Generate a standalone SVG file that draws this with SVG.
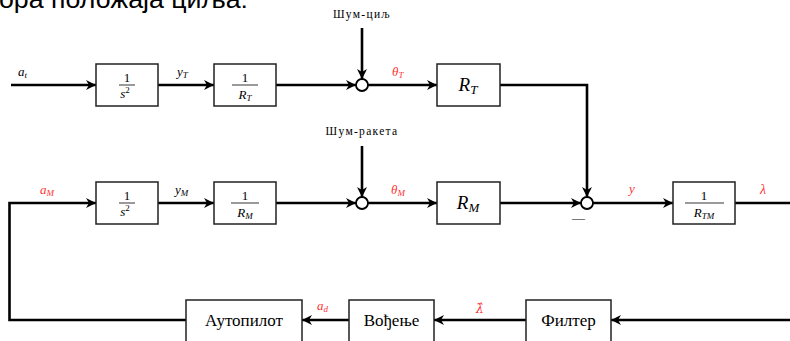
<svg xmlns="http://www.w3.org/2000/svg" width="790" height="341" viewBox="0 0 790 341">
<defs>
<marker id="ah" viewBox="0 0 10 10" refX="10" refY="5" markerWidth="10" markerHeight="10" markerUnits="userSpaceOnUse" orient="auto">
<path d="M0,0 L10,5 L0,10 L3,5 Z" fill="#000"/>
</marker>
</defs>
<style>
.ln{fill:none;stroke:#000;stroke-width:2.6}
.bx{fill:#fff;stroke:#222;stroke-width:1.5}
.sj{fill:#fff;stroke:#000;stroke-width:1.8}
.m{font-family:"Liberation Serif","DejaVu Serif",serif;font-style:italic;fill:#000}
.r{fill:#ff3333}
.n{font-family:"Liberation Serif","DejaVu Serif",serif;fill:#000}
.t{font-family:"Liberation Serif","DejaVu Serif",serif;font-size:11.5px;letter-spacing:1.3px;fill:#000}
.fl{stroke:#000;stroke-width:0.8}
</style>
<text x="-1" y="8" font-family="Liberation Sans, Arial, sans-serif" font-size="25" textLength="249" lengthAdjust="spacingAndGlyphs" fill="#000">ора положаја циља:</text>
<g id="connectors">
<line class="ln" x1="11" y1="85" x2="96" y2="85" marker-end="url(#ah)"/>
<line class="ln" x1="158" y1="85" x2="214" y2="85" marker-end="url(#ah)"/>
<line class="ln" x1="276" y1="85" x2="356" y2="85" marker-end="url(#ah)"/>
<line class="ln" x1="362" y1="28" x2="362" y2="79" marker-end="url(#ah)"/>
<line class="ln" x1="368" y1="85" x2="437" y2="85" marker-end="url(#ah)"/>
<polyline class="ln" points="500,85 587,85 587,197" marker-end="url(#ah)"/>
<line class="ln" x1="11" y1="203" x2="96" y2="203" marker-end="url(#ah)"/>
<line class="ln" x1="158" y1="203" x2="214" y2="203" marker-end="url(#ah)"/>
<line class="ln" x1="276" y1="203" x2="356" y2="203" marker-end="url(#ah)"/>
<line class="ln" x1="362" y1="146" x2="362" y2="197" marker-end="url(#ah)"/>
<line class="ln" x1="368" y1="203" x2="437" y2="203" marker-end="url(#ah)"/>
<line class="ln" x1="500" y1="203" x2="581" y2="203" marker-end="url(#ah)"/>
<line class="ln" x1="593" y1="203" x2="673" y2="203" marker-end="url(#ah)"/>
<line class="ln" x1="735" y1="203" x2="790" y2="203" stroke-width="3.2"/>
<line class="ln" x1="790" y1="320" x2="611" y2="320" marker-end="url(#ah)"/>
<line class="ln" x1="526" y1="320" x2="434" y2="320" marker-end="url(#ah)"/>
<line class="ln" x1="349" y1="320" x2="302" y2="320" marker-end="url(#ah)"/>
<polyline class="ln" points="186,320 9.5,320 9.5,203 11,203"/>
</g>
<g id="labels">
<text class="m" x="18" y="76" font-size="13">a<tspan font-size="9" dy="2">t</tspan></text>
<text class="m" x="177" y="76" font-size="13">y<tspan font-size="9" dy="2">T</tspan></text>
<text class="m r" x="392" y="76" font-size="13">θ<tspan font-size="9" dy="2">T</tspan></text>
<text class="m r" x="40" y="194" font-size="13">a<tspan font-size="9" dy="2">M</tspan></text>
<text class="m" x="175" y="194" font-size="13">y<tspan font-size="9" dy="2">M</tspan></text>
<text class="m r" x="391" y="194" font-size="13">θ<tspan font-size="9" dy="2">M</tspan></text>
<text class="m r" x="629" y="193" font-size="13">y</text>
<text class="m r" x="760" y="194" font-size="14">λ</text>
<text class="m r" x="317" y="310" font-size="13">a<tspan font-size="9" dy="2">d</tspan></text>
<text class="r" x="476" y="313" font-size="12" font-family="DejaVu Serif, serif" font-style="italic">λ̂</text>
<text class="n" x="572" y="222" font-size="13">—</text>
<text class="t" x="362" y="18" text-anchor="middle">Шум-циљ</text>
<text class="t" x="362" y="135" text-anchor="middle">Шум-ракета</text>
</g>
<g id="sum1"><circle class="sj" cx="362" cy="85" r="6"/></g>
<g id="sum2"><circle class="sj" cx="362" cy="203" r="6"/></g>
<g id="sum3"><circle class="sj" cx="587" cy="203" r="6"/></g>
<g id="int_t">
<rect class="bx" x="96" y="64" width="62" height="42"/>
<text class="n" x="127" y="82" font-size="13" text-anchor="middle">1</text>
<line class="fl" x1="119" y1="85" x2="135" y2="85"/>
<text class="m" x="125" y="98" font-size="13" text-anchor="middle">s<tspan font-style="normal" font-size="9" dy="-5">2</tspan></text>
</g>
<g id="inv_rt">
<rect class="bx" x="214" y="64" width="62" height="42"/>
<text class="n" x="245" y="82" font-size="13" text-anchor="middle">1</text>
<line class="fl" x1="232" y1="85" x2="258" y2="85"/>
<text class="m" x="245" y="99" font-size="13" text-anchor="middle">R<tspan font-size="9" dy="2">T</tspan></text>
</g>
<g id="rt">
<rect class="bx" x="437" y="64" width="63" height="42"/>
<text class="m" x="468" y="91" font-size="19" text-anchor="middle">R<tspan font-size="13" dy="3">T</tspan></text>
</g>
<g id="int_m">
<rect class="bx" x="96" y="182" width="62" height="42"/>
<text class="n" x="127" y="200" font-size="13" text-anchor="middle">1</text>
<line class="fl" x1="119" y1="203" x2="135" y2="203"/>
<text class="m" x="125" y="216" font-size="13" text-anchor="middle">s<tspan font-style="normal" font-size="9" dy="-5">2</tspan></text>
</g>
<g id="inv_rm">
<rect class="bx" x="214" y="182" width="62" height="42"/>
<text class="n" x="245" y="200" font-size="13" text-anchor="middle">1</text>
<line class="fl" x1="231" y1="203" x2="259" y2="203"/>
<text class="m" x="245" y="217" font-size="13" text-anchor="middle">R<tspan font-size="9" dy="2">M</tspan></text>
</g>
<g id="rm">
<rect class="bx" x="437" y="182" width="63" height="42"/>
<text class="m" x="468" y="209" font-size="19" text-anchor="middle">R<tspan font-size="13" dy="3">M</tspan></text>
</g>
<g id="inv_rtm">
<rect class="bx" x="673" y="182" width="62" height="42"/>
<text class="n" x="704" y="200" font-size="13" text-anchor="middle">1</text>
<line class="fl" x1="685" y1="203" x2="724" y2="203"/>
<text class="m" x="704" y="217" font-size="13" text-anchor="middle">R<tspan font-size="9" dy="2">TM</tspan></text>
</g>
<g id="autopilot">
<rect class="bx" x="186" y="300" width="116" height="42"/>
<text class="n" x="244" y="326" font-size="17" text-anchor="middle">Аутопилот</text>
</g>
<g id="guidance">
<rect class="bx" x="349" y="300" width="85" height="42"/>
<text class="n" x="391.5" y="326" font-size="17" text-anchor="middle">Вођење</text>
</g>
<g id="filter">
<rect class="bx" x="526" y="300" width="85" height="42"/>
<text class="n" x="568.5" y="326" font-size="17" text-anchor="middle">Филтер</text>
</g>
</svg>
